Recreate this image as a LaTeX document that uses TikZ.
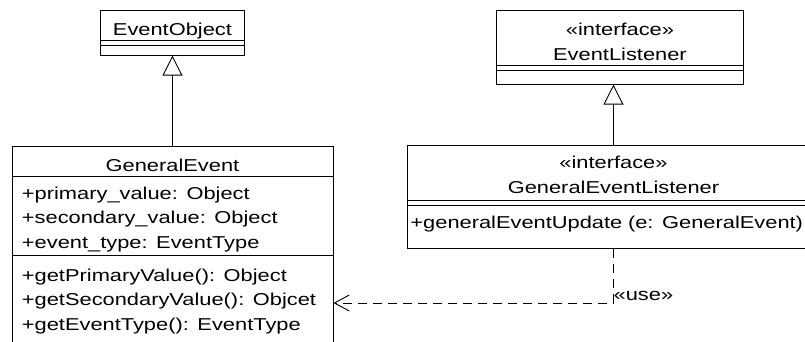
\documentclass[tikz,border=0pt]{standalone}
\usepackage{fontspec}
\setmainfont{Liberation Sans}[FakeStretch=1.27]
\usetikzlibrary{positioning,shapes,arrows.meta}

% strut with given height and depth
\newcommand{\umlstrut}[2]{\rule[-#2]{0pt}{\dimexpr #1+#2\relax}}

\tikzstyle{umlclass}=[
	rectangle split,
	rectangle split parts=3,
	draw=black,
	line width=0.9pt,
	text=black,
	align=left,
	inner xsep=3pt,
	inner ysep=0pt]
\tikzstyle{inherit}=[line width=0.9pt, -{Triangle[open,length=20pt,width=20pt]}]
\tikzstyle{usedep}=[line width=0.9pt, dash pattern=on 9pt off 6pt, -{Straight Barb[length=15pt,width=16pt]}]

\begin{document}
\begin{tikzpicture}[x=1pt,y=-1pt,font=\fontsize{17.2pt}{24.5pt}\selectfont]

		\useasboundingbox (0,0) rectangle (805,341);

		\node (EventObject) [umlclass, text width=138pt, anchor=north west] at (100,10) {
			\centering\umlstrut{24.3pt}{4.7pt}EventObject\par
			\nodepart{second} \umlstrut{4pt}{0pt}
			\nodepart{third} \umlstrut{9pt}{0pt}
		};

		\node (GeneralEvent) [umlclass, text width=301pt, inner xsep=10pt, below=90pt of EventObject] {
			\centering\umlstrut{25pt}{4pt}GeneralEvent\par
			\nodepart{second} \umlstrut{23pt}{5pt}+primary\_value: Object\\
			\umlstrut{19.5pt}{5pt}+secondary\_value: Object\\
			\umlstrut{19.5pt}{7pt}+event\_type: EventType
			\nodepart{third} \umlstrut{25pt}{5pt}+getPrimaryValue(): Object\\
			\umlstrut{19.5pt}{5pt}+getSecondaryValue(): Objcet\\
			\umlstrut{19.5pt}{20pt}+getEventType(): EventType
		};

		\node (EventListener) [umlclass, text width=241pt, anchor=north west] at (496,10) {
			\centering\umlstrut{25pt}{5pt}«interface»\par
			\umlstrut{19.5pt}{5pt}EventListener\par
			\nodepart{second} \umlstrut{4pt}{0pt}
			\nodepart{third} \umlstrut{12.5pt}{0pt}
		};

		\node (GeneralEventListener) [umlclass, text width=406pt, below=60pt of EventListener, xshift=-6.5pt] {
			\centering\umlstrut{23pt}{5pt}«interface»\par
			\umlstrut{19.5pt}{7pt}GeneralEventListener\par
			\nodepart{second} \umlstrut{4pt}{0pt}
			\nodepart{third} \umlstrut{23pt}{19.5pt}+generalEventUpdate (e: GeneralEvent)
		};

		% generalization
		\draw[inherit] (GeneralEvent.north) -- (EventObject.south);
		\draw[inherit] (GeneralEventListener.north) -- (GeneralEventListener.north |- EventListener.south);

		% dependency
		\coordinate (usecorner) at (GeneralEventListener.south |- 0,303);
		\draw[usedep] (GeneralEventListener.south) -- (usecorner) -- (usecorner -| GeneralEvent.east);
		\node (uselabel) [anchor=base west, inner sep=0pt] at ([yshift=3pt]usecorner) {«use»};

	\end{tikzpicture}
\end{document}
